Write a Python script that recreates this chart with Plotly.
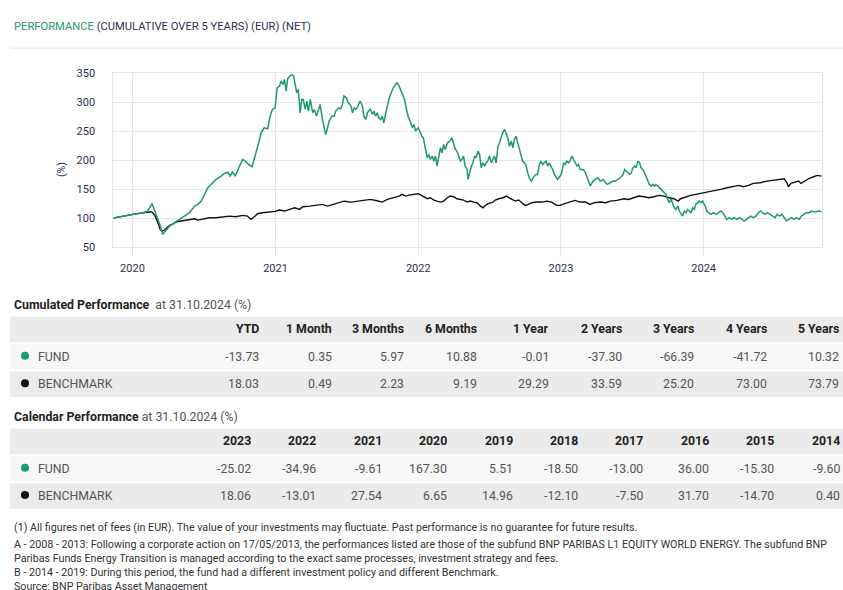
import plotly.graph_objects as go

# ---------------- data ----------------
fund_series = [
("2019-11-13",100.0),("2019-11-29",102.0),("2019-12-16",105.0),("2020-01-01",106.4),("2020-01-14",107.5),
("2020-01-27",109.3),("2020-02-09",112.1),("2020-02-20",125.0),("2020-02-24",118.0),("2020-03-02",106.0),
("2020-03-11",89.0),("2020-03-18",71.8),("2020-03-23",76.0),("2020-03-27",80.5),("2020-04-05",86.3),
("2020-04-18",92.0),("2020-04-30",97.8),("2020-05-13",103.5),("2020-05-26",109.3),("2020-06-08",120.8),
("2020-06-16",123.7),("2020-06-25",129.4),("2020-07-03",141.0),("2020-07-12",152.5),("2020-07-20",158.2),
("2020-08-02",166.9),("2020-08-15",172.6),("2020-08-23",177.2),("2020-09-01",179.5),("2020-09-07",172.6),
("2020-09-13",179.5),("2020-09-20",172.6),("2020-09-29",187.0),("2020-10-09",201.4),("2020-10-16",198.5),
("2020-10-24",192.8),("2020-11-02",188.7),("2020-11-10",207.2),("2020-11-19",230.2),("2020-11-25",247.5),
("2020-12-03",256.1),("2020-12-12",254.4),("2020-12-18",276.2),("2020-12-24",287.8),("2020-12-31",290.6),
("2021-01-05",325.2),("2021-01-11",328.1),("2021-01-15",336.7),("2021-01-20",330.9),("2021-01-24",339.6),
("2021-01-28",319.4),("2021-02-01",340.7),("2021-02-06",345.3),("2021-02-12",348.2),("2021-02-16",345.3),
("2021-02-21",328.1),("2021-02-24",316.5),("2021-02-28",322.3),("2021-03-05",282.0),("2021-03-09",305.0),
("2021-03-13",305.0),("2021-03-18",287.8),("2021-03-22",302.2),("2021-03-26",284.9),("2021-03-31",305.0),
("2021-04-06",282.0),("2021-04-10",287.8),("2021-04-16",276.2),("2021-04-21",290.6),("2021-04-25",296.4),
("2021-05-01",270.5),("2021-05-05",256.1),("2021-05-09",244.6),("2021-05-14",256.1),("2021-05-18",267.6),
("2021-05-25",276.2),("2021-05-31",276.2),("2021-06-04",284.9),("2021-06-11",290.6),("2021-06-17",288.9),
("2021-06-21",296.4),("2021-06-25",310.8),("2021-07-01",307.9),("2021-07-06",299.3),("2021-07-13",293.5),
("2021-07-17",282.0),("2021-07-21",290.6),("2021-07-25",287.8),("2021-07-31",293.5),("2021-08-05",302.2),
("2021-08-11",294.7),("2021-08-15",276.2),("2021-08-20",270.5),("2021-08-24",282.0),("2021-08-31",288.9),
("2021-09-06",279.1),("2021-09-10",284.9),("2021-09-14",276.2),("2021-09-18",282.0),("2021-09-22",273.4),
("2021-09-27",270.5),("2021-10-01",276.2),("2021-10-05",264.7),("2021-10-10",282.0),("2021-10-14",296.4),
("2021-10-18",305.0),("2021-10-22",313.7),("2021-10-29",325.2),("2021-11-04",330.9),("2021-11-08",333.8),
("2021-11-13",328.1),("2021-11-17",322.3),("2021-11-21",313.7),("2021-11-27",305.0),("2021-12-02",287.8),
("2021-12-06",276.2),("2021-12-11",267.6),("2021-12-17",256.1),("2021-12-21",261.8),("2021-12-25",250.3),
("2022-01-01",256.1),("2022-01-06",247.5),("2022-01-10",241.7),("2022-01-14",238.8),("2022-01-20",218.7),
("2022-01-24",204.3),("2022-01-28",210.0),("2022-02-01",201.4),("2022-02-06",207.2),("2022-02-10",198.5),
("2022-02-14",207.2),("2022-02-18",189.9),("2022-02-22",204.3),("2022-02-27",221.6),("2022-03-03",212.9),
("2022-03-07",227.3),("2022-03-11",218.7),("2022-03-17",230.2),("2022-03-23",233.1),("2022-03-28",238.8),
("2022-04-02",227.3),("2022-04-06",218.7),("2022-04-10",215.8),("2022-04-14",207.2),("2022-04-19",198.5),
("2022-04-23",201.4),("2022-04-27",207.2),("2022-05-01",189.9),("2022-05-06",184.1),("2022-05-08",166.9),
("2022-05-12",178.4),("2022-05-17",189.9),("2022-05-21",195.6),("2022-05-25",207.2),("2022-05-29",204.3),
("2022-06-03",215.8),("2022-06-07",210.0),("2022-06-11",187.0),("2022-06-15",195.6),("2022-06-20",189.9),
("2022-06-24",195.6),("2022-06-28",198.5),("2022-07-02",207.2),("2022-07-07",195.6),("2022-07-11",201.4),
("2022-07-15",207.2),("2022-07-19",195.6),("2022-07-24",224.4),("2022-07-28",230.2),("2022-08-01",238.8),
("2022-08-05",247.5),("2022-08-10",253.2),("2022-08-14",244.6),("2022-08-18",238.8),("2022-08-22",224.4),
("2022-08-27",233.1),("2022-08-31",221.6),("2022-09-04",236.0),("2022-09-08",241.7),("2022-09-13",230.2),
("2022-09-17",218.7),("2022-09-21",207.2),("2022-09-25",198.5),("2022-09-30",195.6),("2022-10-04",189.9),
("2022-10-08",178.4),("2022-10-12",169.7),("2022-10-17",164.0),("2022-10-21",169.7),("2022-10-25",172.6),
("2022-10-29",175.5),("2022-11-02",175.5),("2022-11-07",192.8),("2022-11-11",198.5),("2022-11-15",192.8),
("2022-11-19",195.6),("2022-11-24",198.5),("2022-11-28",189.9),("2022-12-02",195.6),("2022-12-06",189.9),
("2022-12-11",184.1),("2022-12-15",175.5),("2022-12-19",169.7),("2022-12-23",166.9),("2022-12-30",172.6),
("2023-01-03",178.4),("2023-01-08",195.6),("2023-01-12",192.8),("2023-01-16",198.5),("2023-01-20",195.6),
("2023-01-24",198.5),("2023-01-29",207.2),("2023-02-02",201.4),("2023-02-06",195.6),("2023-02-11",189.9),
("2023-02-15",192.8),("2023-02-19",184.0),("2023-02-27",184.1),("2023-03-05",178.4),("2023-03-11",166.9),
("2023-03-17",155.3),("2023-03-24",164.0),("2023-03-30",166.9),("2023-04-05",169.7),("2023-04-12",164.0),
("2023-04-19",166.9),("2023-04-25",161.1),("2023-04-30",158.2),("2023-05-07",161.1),("2023-05-14",164.0),
("2023-05-20",164.0),("2023-05-26",166.9),("2023-06-02",169.7),("2023-06-09",175.5),("2023-06-13",184.1),
("2023-06-17",181.3),("2023-06-22",178.4),("2023-06-26",175.5),("2023-06-30",178.4),("2023-07-04",187.0),
("2023-07-08",189.9),("2023-07-12",187.0),("2023-07-17",198.5),("2023-07-21",195.6),("2023-07-25",187.0),
("2023-07-29",184.1),("2023-08-03",178.4),("2023-08-07",172.6),("2023-08-11",166.9),("2023-08-15",158.2),
("2023-08-20",155.3),("2023-08-24",158.2),("2023-08-28",155.3),("2023-09-01",158.2),("2023-09-06",155.3),
("2023-09-10",152.5),("2023-09-14",149.6),("2023-09-18",146.7),("2023-09-23",143.8),("2023-09-27",141.0),
("2023-10-01",132.3),("2023-10-05",126.6),("2023-10-10",132.3),("2023-10-14",123.7),("2023-10-18",117.9),
("2023-10-22",115.0),("2023-10-27",120.8),("2023-10-31",112.2),("2023-11-04",106.4),("2023-11-08",103.5),
("2023-11-13",112.2),("2023-11-17",109.3),("2023-11-21",115.0),("2023-11-25",112.2),("2023-11-30",109.3),
("2023-12-04",117.9),("2023-12-08",115.0),("2023-12-12",123.7),("2023-12-17",126.6),("2023-12-21",129.4),
("2023-12-25",126.6),("2023-12-29",129.4),("2024-01-05",120.8),("2024-01-09",112.2),("2024-01-14",109.3),
("2024-01-20",106.4),("2024-01-26",109.3),("2024-02-02",106.4),("2024-02-08",109.3),("2024-02-14",112.2),
("2024-02-19",109.3),("2024-02-25",100.7),("2024-02-29",97.8),("2024-03-07",100.7),("2024-03-13",97.8),
("2024-03-19",100.7),("2024-03-26",97.8),("2024-04-02",100.7),("2024-04-08",97.8),("2024-04-14",94.9),
("2024-04-19",97.8),("2024-04-25",100.7),("2024-05-01",103.5),("2024-05-07",100.7),("2024-05-14",103.5),
("2024-05-20",109.3),("2024-05-26",112.2),("2024-05-31",109.3),("2024-06-06",106.4),("2024-06-12",109.3),
("2024-06-19",106.4),("2024-06-26",103.5),("2024-07-02",100.7),("2024-07-07",106.4),("2024-07-13",103.5),
("2024-07-19",106.4),("2024-07-24",100.7),("2024-07-31",94.9),("2024-08-06",97.8),("2024-08-13",100.7),
("2024-08-19",97.8),("2024-08-26",100.7),("2024-09-02",97.8),("2024-09-07",103.5),("2024-09-13",106.4),
("2024-09-20",109.3),("2024-09-27",109.3),("2024-10-03",112.2),("2024-10-11",110.5),("2024-10-22",112.2),
("2024-10-29",110.3),
]

benchmark_series = [
("2019-11-13",100.0),("2019-11-29",102.4),("2019-12-16",104.7),("2020-01-01",106.4),("2020-01-19",108.1),
("2020-02-05",109.3),("2020-02-17",111.0),("2020-02-22",109.3),("2020-02-28",103.5),("2020-03-06",92.0),
("2020-03-12",80.5),("2020-03-17",77.6),("2020-03-23",79.4),("2020-03-29",83.4),("2020-04-05",87.4),
("2020-04-13",89.7),("2020-04-21",93.2),("2020-05-04",94.9),("2020-05-17",96.6),("2020-05-30",97.8),
("2020-06-08",98.9),("2020-06-16",96.6),("2020-06-29",98.9),("2020-07-16",100.7),("2020-08-02",100.7),
("2020-08-19",102.4),("2020-09-05",103.5),("2020-09-21",102.4),("2020-10-09",104.7),("2020-10-21",103.5),
("2020-10-30",97.8),("2020-11-05",100.7),("2020-11-16",107.6),("2020-11-28",109.3),("2020-12-15",110.4),
("2020-12-31",111.6),("2021-01-11",113.9),("2021-01-24",112.2),("2021-02-06",115.0),("2021-02-19",117.9),
("2021-03-03",115.0),("2021-03-12",119.6),("2021-03-29",120.8),("2021-04-15",122.0),("2021-05-01",123.7),
("2021-05-14",120.8),("2021-05-27",123.7),("2021-06-13",126.6),("2021-06-25",129.4),("2021-07-06",128.3),
("2021-07-14",127.7),("2021-07-31",129.4),("2021-08-15",131.2),("2021-09-01",132.3),("2021-09-18",130.0),
("2021-10-01",127.7),("2021-10-14",132.3),("2021-10-31",135.2),("2021-11-13",138.1),("2021-11-21",141.0),
("2021-11-30",138.1),("2021-12-08",139.8),("2021-12-21",141.0),("2022-01-01",142.1),("2022-01-09",139.2),
("2022-01-16",136.4),("2022-01-24",133.5),("2022-02-01",135.2),("2022-02-10",131.2),("2022-02-18",129.4),
("2022-02-27",127.7),("2022-03-07",129.4),("2022-03-16",135.2),("2022-03-24",138.1),("2022-04-02",137.0),
("2022-04-10",133.5),("2022-04-19",132.3),("2022-04-27",131.2),("2022-05-06",127.7),("2022-05-14",129.4),
("2022-05-23",127.7),("2022-05-31",126.6),("2022-06-09",120.8),("2022-06-16",117.9),("2022-06-22",122.0),
("2022-06-30",125.4),("2022-07-09",126.6),("2022-07-17",131.2),("2022-07-26",133.5),("2022-08-06",135.2),
("2022-08-14",138.1),("2022-08-20",135.2),("2022-08-29",132.3),("2022-09-06",129.4),("2022-09-15",131.2),
("2022-09-23",126.6),("2022-10-01",122.0),("2022-10-10",123.7),("2022-10-18",126.6),("2022-10-31",127.7),
("2022-11-13",127.7),("2022-11-26",129.4),("2022-12-08",127.7),("2022-12-21",122.0),("2022-12-30",122.0),
("2023-01-12",125.4),("2023-01-24",127.7),("2023-02-06",130.6),("2023-02-19",127.7),("2023-03-05",127.7),
("2023-03-16",123.7),("2023-03-27",126.6),("2023-04-12",127.7),("2023-04-25",126.6),("2023-05-07",129.4),
("2023-05-24",130.6),("2023-06-11",133.5),("2023-06-23",132.3),("2023-07-06",135.2),("2023-07-19",138.1),
("2023-08-02",137.0),("2023-08-14",135.2),("2023-08-27",137.0),("2023-09-09",139.2),("2023-09-22",138.1),
("2023-10-04",135.2),("2023-10-17",133.5),("2023-10-28",129.4),("2023-11-03",133.5),("2023-11-16",137.0),
("2023-11-29",139.2),("2023-12-12",141.0),("2023-12-25",142.7),("2024-01-05",143.8),("2024-01-18",145.0),
("2024-01-26",146.7),("2024-02-13",149.6),("2024-03-01",152.5),("2024-03-18",155.3),("2024-03-31",156.5),
("2024-04-12",154.2),("2024-04-25",156.5),("2024-05-07",160.0),("2024-05-25",161.1),("2024-06-11",164.0),
("2024-06-28",165.7),("2024-07-15",166.9),("2024-07-25",168.0),("2024-08-01",161.1),("2024-08-05",154.2),
("2024-08-11",160.0),("2024-08-22",162.3),("2024-08-31",164.0),("2024-09-06",160.0),("2024-09-14",164.0),
("2024-09-25",168.0),("2024-10-08",171.5),("2024-10-18",173.8),("2024-10-29",172.6),
]

y_ticks = [50, 100, 150, 200, 250, 300, 350]
x_ticks = ["2020-01-01", "2021-01-01", "2022-01-01", "2023-01-01", "2024-01-01"]

cum_columns = ["YTD", "1 Month", "3 Months", "6 Months", "1 Year", "2 Years", "3 Years", "4 Years", "5 Years"]
cum_fund = ["-13.73", "0.35", "5.97", "10.88", "-0.01", "-37.30", "-66.39", "-41.72", "10.32"]
cum_bench = ["18.03", "0.49", "2.23", "9.19", "29.29", "33.59", "25.20", "73.00", "73.79"]

cal_columns = ["2023", "2022", "2021", "2020", "2019", "2018", "2017", "2016", "2015", "2014"]
cal_fund = ["-25.02", "-34.96", "-9.61", "167.30", "5.51", "-18.50", "-13.00", "36.00", "-15.30", "-9.60"]
cal_bench = ["18.06", "-13.01", "27.54", "6.65", "14.96", "-12.10", "-7.50", "31.70", "-14.70", "0.40"]

row_labels = ["FUND", "BENCHMARK"]
footnotes = [
    "(1) All figures net of fees (in EUR). The value of your investments may fluctuate. Past performance is no guarantee for future results.",
    "A - 2008 - 2013: Following a corporate action on 17/05/2013, the performances listed are those of the subfund BNP PARIBAS L1 EQUITY WORLD ENERGY. The subfund BNP",
    "Paribas Funds Energy Transition is managed according to the exact same processes, investment strategy and fees.",
    "B - 2014 - 2019: During this period, the fund had a different investment policy and different Benchmark.",
    "Source: BNP Paribas Asset Management",
]

# ---------------- styling ----------------
W, H = 843, 600
SY, OY = 0.979, 4.8          # vertical compensation for the capture
GREEN = "#1f9a68"
BLACK = "#111111"
NAVY = "#2e3150"
GRID = "#e6e6e6"
COND = "Roboto, Liberation Sans, sans-serif"
BODY = "Roboto, Liberation Sans, sans-serif"


def px(x):
    return x / W


def py(y):
    return 1 - ((y - OY) / SY) / H


fig = go.Figure()
fig.add_trace(go.Scatter(x=[d for d, _ in benchmark_series], y=[v for _, v in benchmark_series],
                         mode="lines", line=dict(color=BLACK, width=1.4), name="BENCHMARK"))
fig.add_trace(go.Scatter(x=[d for d, _ in fund_series], y=[v for _, v in fund_series],
                         mode="lines", line=dict(color=GREEN, width=1.5), name="FUND"))

shapes = []
annotations = []

# title
annotations.append(dict(
    x=px(12), y=py(25), xref="paper", yref="paper", xanchor="left", yanchor="middle", showarrow=False,
    text=f"<span style='color:{GREEN}'>PERFORMANCE</span> <span style='color:{NAVY}'>(CUMULATIVE OVER 5 YEARS) (EUR) (NET)</span>",
    font=dict(family=COND, size=11.2)))
shapes.append(dict(type="line", xref="paper", yref="paper", x0=px(10), x1=1, y0=py(47), y1=py(47),
                   line=dict(color="#e8e8e8", width=1)))

# y-axis title
annotations.append(dict(x=px(53), y=py(159), xref="paper", yref="paper", showarrow=False, text="(%)",
                        textangle=-90, font=dict(family=COND, size=10.5, color=NAVY)))


def table(title_bold, title_rest, title_y, top, row_h, cols, fund, bench, right0, step):
    annotations.append(dict(
        x=px(12), y=py(title_y), xref="paper", yref="paper", xanchor="left", yanchor="middle", showarrow=False,
        text=f"<b>{title_bold}</b><span style='color:#555'>{title_rest}</span>",
        font=dict(family=BODY, size=12.3, color="#222")))
    fills = ["#ebebeb", "#f7f7f7", "#ebebeb"]
    for i, f in enumerate(fills):
        y0 = top + i * row_h
        shapes.append(dict(type="rect", xref="paper", yref="paper", x0=px(10), x1=1,
                           y0=py(y0 + 0.5), y1=py(y0 + row_h - 1.5), fillcolor=f, line=dict(width=0),
                           layer="below"))
    rows = [cols, fund, bench]
    for i, vals in enumerate(rows):
        yc = top + i * row_h + row_h / 2 - 0.5
        for j, v in enumerate(vals):
            annotations.append(dict(
                x=px(right0 + j * step), y=py(yc), xref="paper", yref="paper", xanchor="right",
                yanchor="middle", showarrow=False,
                text=f"<b>{v}</b>" if i == 0 else v,
                font=dict(family=BODY, size=12.3, color="#222" if i == 0 else "#555")))
    for k, (lab, col) in enumerate(zip(row_labels, [GREEN, BLACK])):
        yc = top + (k + 1) * row_h + row_h / 2 - 0.5
        shapes.append(dict(type="circle", xref="paper", yref="paper", xsizemode="pixel", ysizemode="pixel",
                           xanchor=px(25), yanchor=py(yc - 1), x0=-4, x1=4, y0=-4, y1=4,
                           fillcolor=col, line=dict(width=0)))
        annotations.append(dict(
            x=px(36), y=py(yc), xref="paper", yref="paper", xanchor="left", yanchor="middle", showarrow=False,
            text=lab, font=dict(family=BODY, size=12.3, color="#555")))


table("Cumulated Performance", "  at 31.10.2024 (%)", 304, 315, 27.5, cum_columns, cum_fund, cum_bench, 261, 72.5)
table("Calendar Performance", " at 31.10.2024 (%)", 416, 427, 27.5, cal_columns, cal_fund, cal_bench, 253, 65.4)

# footnotes
for t, yy in zip(footnotes, [527, 544, 558, 572, 586]):
    annotations.append(dict(x=px(12), y=py(yy), xref="paper", yref="paper", xanchor="left", yanchor="middle",
                            showarrow=False, text=t, font=dict(family=COND, size=10.7, color="#333")))

fig.update_layout(
    width=W, height=H, autosize=False,
    margin=dict(l=0, r=0, t=0, b=0),
    paper_bgcolor="white", plot_bgcolor="white",
    showlegend=False,
    shapes=shapes, annotations=annotations,
    xaxis=dict(domain=[px(113.3), px(821.7)], type="date", range=["2019-11-13", "2024-10-29"],
               tickvals=x_ticks, tickformat="%Y", showgrid=True, gridcolor=GRID, gridwidth=1,
               ticks="outside", ticklen=8, tickcolor=GRID, showline=True, linecolor=GRID, mirror=True,
               zeroline=False, ticklabelstandoff=3,
               tickfont=dict(family=COND, size=11, color=NAVY)),
    yaxis=dict(domain=[py(246), py(72.3)], range=[50, 350], tickvals=y_ticks,
               showgrid=True, gridcolor=GRID, gridwidth=1, showline=True, linecolor=GRID, mirror=True,
               zeroline=False, ticks="", ticklabelstandoff=15,
               tickfont=dict(family=COND, size=11, color=NAVY)),
)

fig.write_html(
    "out.html",
    config={"displayModeBar": False},
    post_script="document.body.style.margin='0';document.documentElement.style.overflow='hidden';",
)
